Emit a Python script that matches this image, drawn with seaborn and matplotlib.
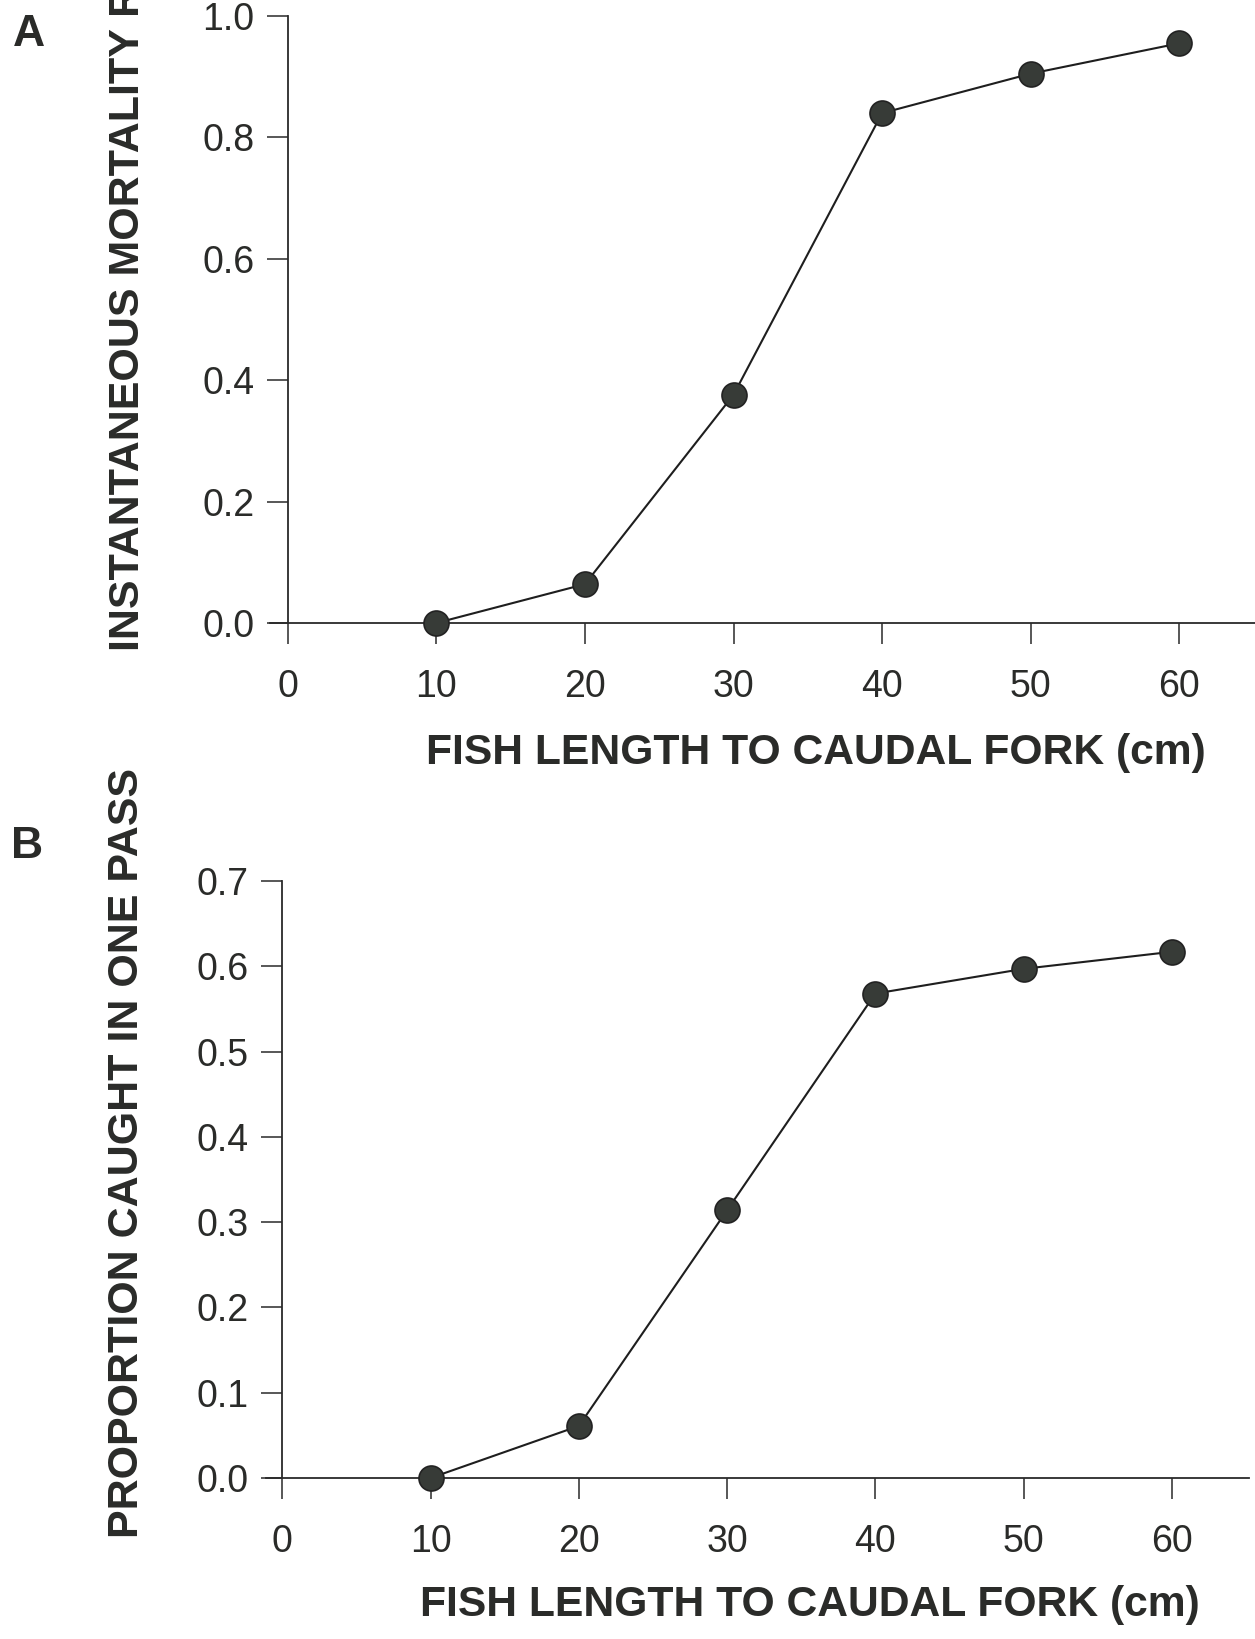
import matplotlib
matplotlib.use("Agg")
import matplotlib.pyplot as plt
import seaborn as sns
import pandas as pd

# Fork length classes (cm)
length_cm = [10, 20, 30, 40, 50, 60]
# Panel A: instantaneous mortality rate
mortality_rate = [0.0, 0.064, 0.376, 0.840, 0.905, 0.955]
# Panel B: proportion caught in a single electrofishing pass
prop_caught = [0.0, 0.061, 0.314, 0.568, 0.597, 0.617]

x_ticks = [0, 10, 20, 30, 40, 50, 60]
a_yticks = [0.0, 0.2, 0.4, 0.6, 0.8, 1.0]
b_yticks = [0.0, 0.1, 0.2, 0.3, 0.4, 0.5, 0.6, 0.7]

xlabel = "FISH LENGTH TO CAUDAL FORK (cm)"
a_ylabel = "INSTANTANEOUS MORTALITY RATE"
b_ylabel = "PROPORTION CAUGHT IN ONE PASS"

sns.set_style("ticks")
plt.rcParams["font.family"] = ["Liberation Sans", "DejaVu Sans"]

TXT = "#2a2b29"
MARK = "#373b37"
W, H = 1255, 1639
fig = plt.figure(figsize=(W / 100, H / 100), dpi=100)


def panel(rect, yvals, ylim, yticks, xlim):
    ax = fig.add_axes(rect)
    df = pd.DataFrame({"len": length_cm, "val": yvals})
    sns.lineplot(data=df, x="len", y="val", ax=ax, color="#1e1e1e", linewidth=1.5,
                 marker="o", markersize=18, markerfacecolor=MARK,
                 markeredgecolor="#222222", markeredgewidth=1.2,
                 clip_on=False, zorder=5)
    ax.set_xlim(*xlim)
    ax.set_ylim(*ylim)
    ax.set_xticks(x_ticks)
    ax.set_yticks(yticks)
    ax.set_xticklabels([str(v) for v in x_ticks])
    ax.set_yticklabels([f"{v:.1f}" for v in yticks])
    ax.spines["top"].set_visible(False)
    ax.spines["right"].set_visible(False)
    ax.spines["left"].set_position(("data", 0))
    ax.spines["left"].set_bounds(0, ylim[1])
    for s in ("left", "bottom"):
        ax.spines[s].set_color("#2a2a2a")
        ax.spines[s].set_linewidth(1.3)
    ax.tick_params(axis="both", direction="out", length=15, width=1.1,
                   color="#2a2a2a", labelsize=27, labelcolor=TXT)
    ax.tick_params(axis="y", pad=9)
    ax.tick_params(axis="x", pad=18)
    ax.set_xlabel("")
    ax.set_ylabel("")
    ax.patch.set_alpha(0)
    return ax


ax_a = panel([270 / W, 1 - 623 / H, 985 / W, 607 / H],
             mortality_rate, (0, 1.0), a_yticks, (-1.2, 65.1))
ax_b = panel([266 / W, 1 - 1478 / H, 983 / W, 597 / H],
             prop_caught, (0, 0.7), b_yticks, (-1.1, 65.2))

fig.text(816 / W, 1 - 753 / H, xlabel, ha="center", va="center",
         fontsize=30.7, fontweight="bold", color=TXT)
fig.text(810 / W, 1 - 1605 / H, xlabel, ha="center", va="center",
         fontsize=30.7, fontweight="bold", color=TXT)

fig.text(128 / W, 1 - 651 / H, a_ylabel, rotation=90, ha="center", va="bottom",
         fontsize=31, fontweight="bold", color=TXT)
fig.text(127 / W, 1 - 1153 / H, b_ylabel, rotation=90, ha="center", va="center",
         fontsize=31, fontweight="bold", color=TXT)

fig.text(29 / W, 1 - 35 / H, "A", ha="center", va="center",
         fontsize=32, fontweight="bold", color=TXT)
fig.text(27 / W, 1 - 846 / H, "B", ha="center", va="center",
         fontsize=32, fontweight="bold", color=TXT)

fig.savefig("out.png", dpi=100, facecolor="white")
